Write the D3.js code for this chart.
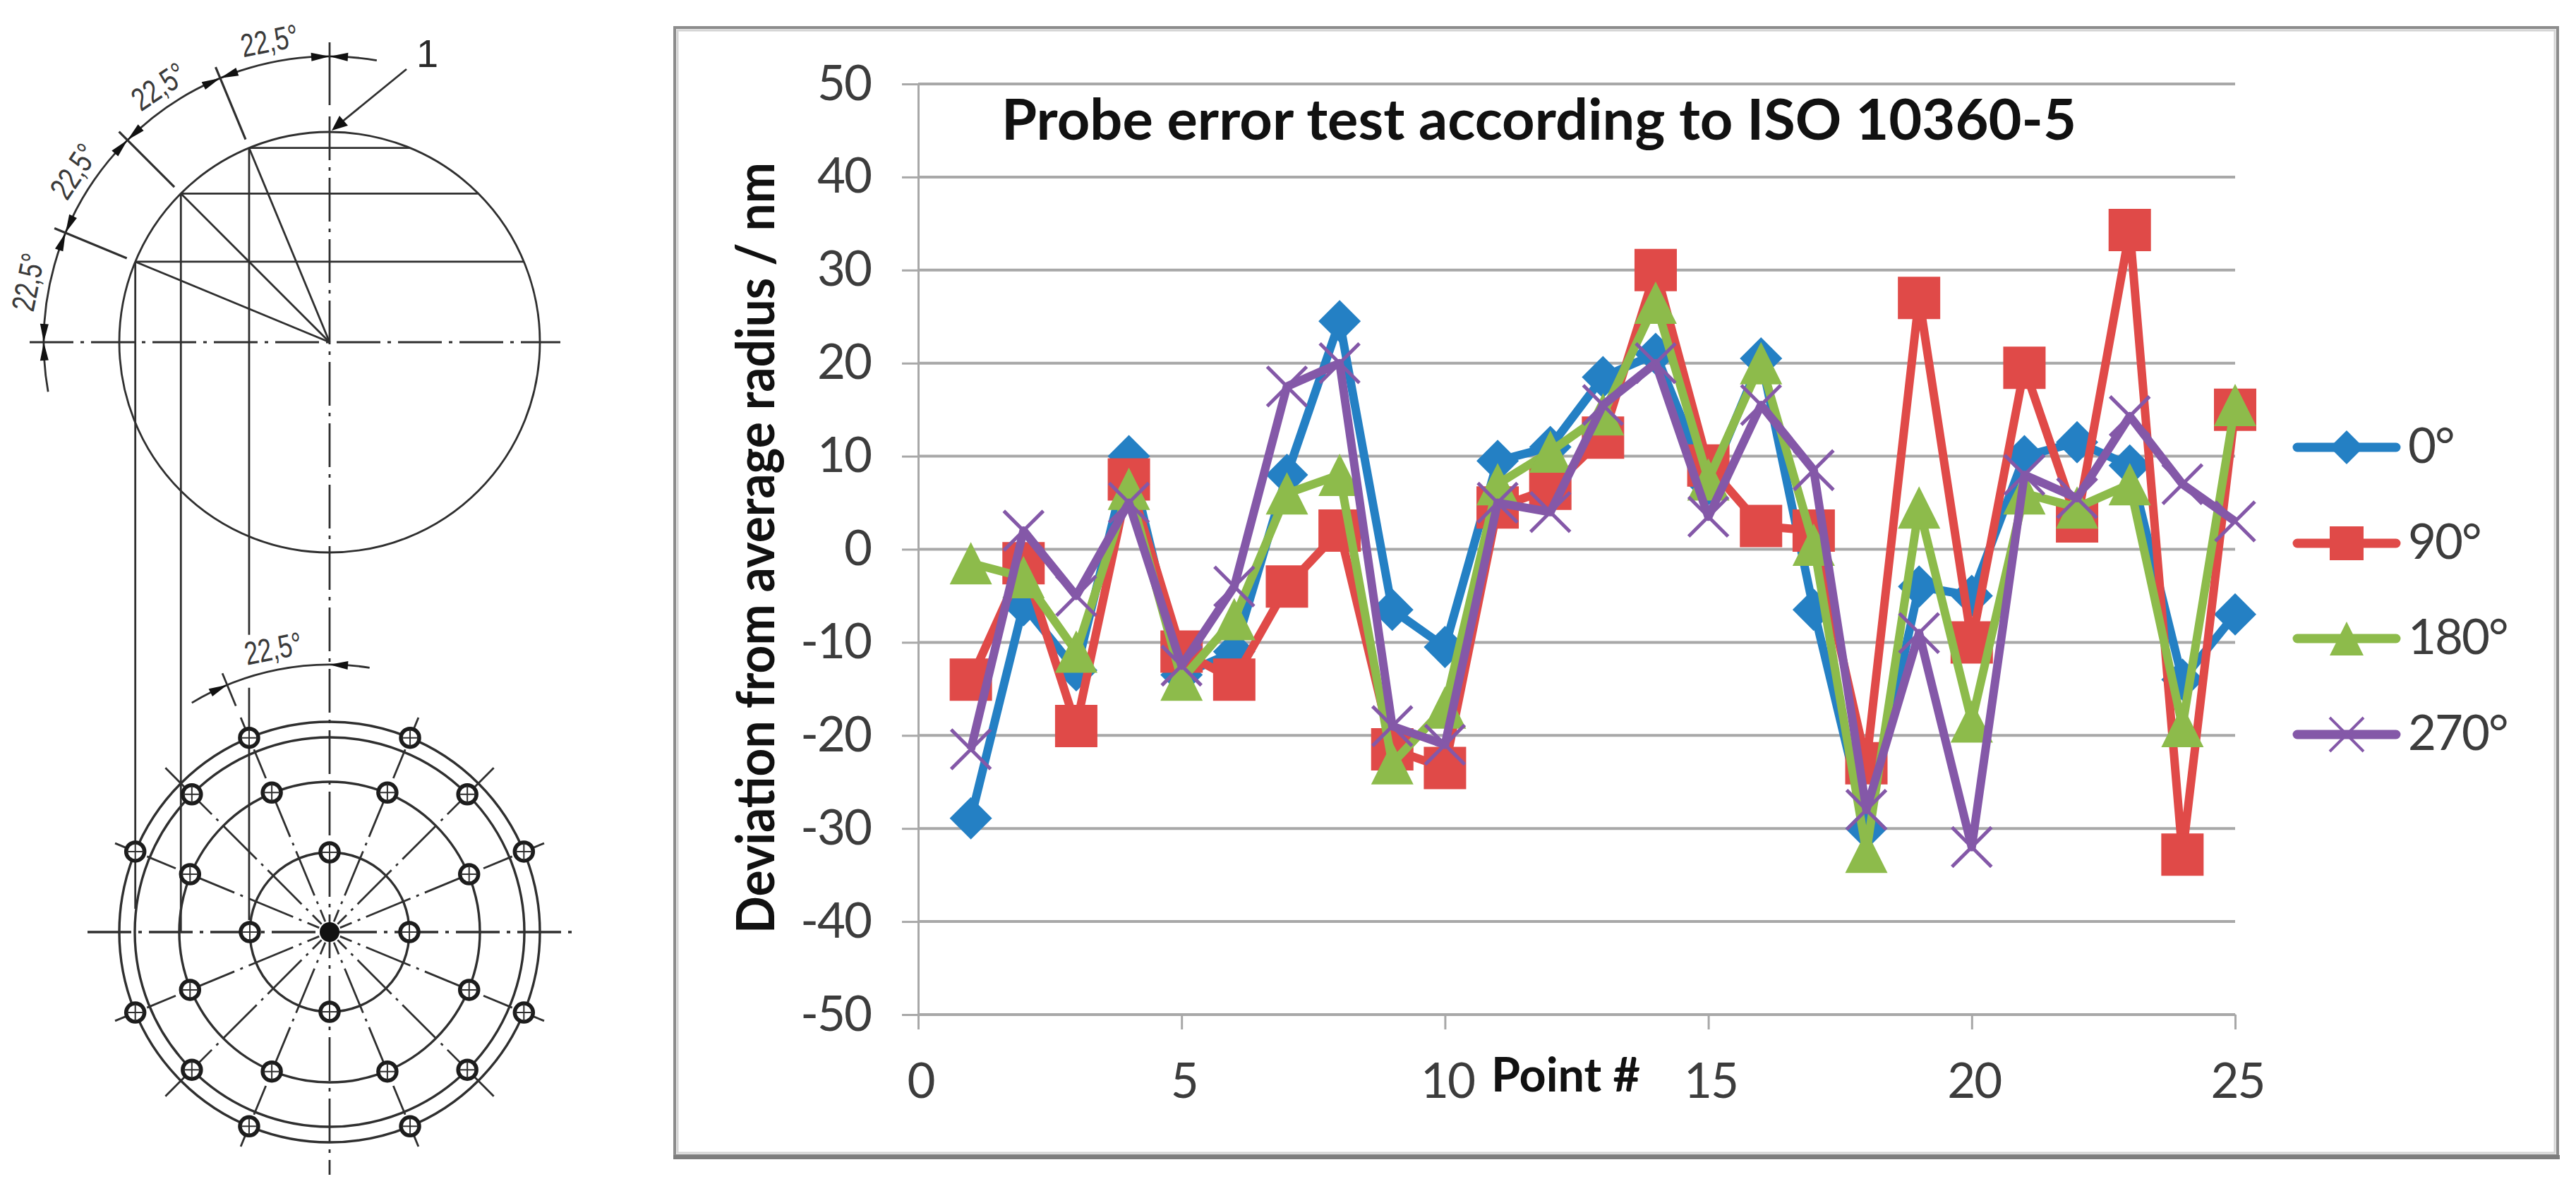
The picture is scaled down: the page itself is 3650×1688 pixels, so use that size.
<!DOCTYPE html>
<html>
<head>
<meta charset="utf-8">
<script src="https://cdn.jsdelivr.net/npm/d3@7/dist/d3.min.js"></script>
<style>
  html, body { margin: 0; background: #fff; }
  svg { display: block; }
</style>
</head>
<body>
<div id="figure"></div>
<script>
const points = d3.range(1, 26);
const seriesNames = ["0°", "90°", "180°", "270°"];
const values0 = [-28.9, -6, -13, 10, -13.5, -11, 8, 24.5, -6.5, -10.5, 9.5, 11, 18.5, 21, 7, 20.5, -6.5, -30, -4, -5, 10, 11.5, 9, -14, -7];
const values90 = [-14, -1.5, -19, 7.5, -11, -14, -4, 2, -21.5, -23.5, 4.5, 6.5, 12, 30, 9, 2.5, 2, -23, 27, -10, 19.5, 3, 34.3, -32.8, 15];
const values180 = [-1.5, -3, -11, 6.5, -14, -7.5, 6, 8, -23, -17, 7, 10.5, 14.5, 26.5, 7.5, 20, 0.5, -32.5, 4.5, -18.5, 6, 4.5, 7, -19, 15.5];
const values270 = [-21.5, 2, -5, 5, -12.5, -4, 17.5, 20, -19, -21, 5, 4, 15.5, 20, 3.5, 15.5, 8.5, -28, -9, -32, 8, 5.5, 14.3, 7, 3];
const yTicks = [50, 40, 30, 20, 10, 0, -10, -20, -30, -40, -50];
const xTicks = [0, 5, 10, 15, 20, 25];
const colors = ["#2480c4", "#e04a48", "#8dbb4b", "#8458a8"];
const shapeNames = ["diamond", "square", "triangle", "cross"];

// probe geometry of the drawing on the left (angles in degrees from the top, radii in px)
const dimAngles = [0, -22.5, -45, -67.5, -90];
const ringRadii = [298, 276, 213, 113];
const holes = [
  ...[22.5, 67.5, 112.5, 157.5, 202.5, 247.5, 292.5, 337.5].map(a => [a, 298]),
  ...[45, 135, 225, 315].map(a => [a, 276]),
  ...[22.5, 67.5, 112.5, 157.5, 202.5, 247.5, 292.5, 337.5].map(a => [a, 214]),
  ...[0, 90, 180, 270].map(a => [a, 113])
];
const spokeAngles = [22.5, 45, 67.5, 112.5, 135, 157.5, 202.5, 225, 247.5, 292.5, 315, 337.5];

const W = 3650, H = 1688;
const svg = d3.select("#figure").append("svg").attr("width", W).attr("height", H);
svg.append("rect").attr("width", W).attr("height", H).attr("fill", "#fff");

const chartFont = "Lato, 'Open Sans', sans-serif";
const drawFont = "'Liberation Sans', sans-serif";

/* ---------- chart ---------- */
const x = d3.scaleLinear().domain([0, 25]).range([1301, 3167]);
const y = d3.scaleLinear().domain([-50, 50]).range([1438, 119]);

// frame
svg.append("rect").attr("x", 956).attr("y", 39).attr("width", 2668).attr("height", 1599)
  .attr("fill", "#fff").attr("stroke", "#8c8c8c").attr("stroke-width", 4);
svg.append("rect").attr("x", 960).attr("y", 43).attr("width", 2660).attr("height", 1591)
  .attr("fill", "none").attr("stroke", "#d4d4d4").attr("stroke-width", 3);
svg.append("line").attr("x1", 954).attr("x2", 3627).attr("y1", 1640).attr("y2", 1640)
  .attr("stroke", "#7d7d7d").attr("stroke-width", 6);

svg.append("g").selectAll("line").data(yTicks).join("line")
  .attr("x1", x(0)).attr("x2", x(25))
  .attr("y1", d => y(d)).attr("y2", d => y(d))
  .attr("stroke", "#a8a8a8").attr("stroke-width", 4);

const yAxis = svg.append("g").attr("transform", `translate(${x(0)},0)`)
  .call(d3.axisLeft(y).tickValues(yTicks).tickFormat(d => String(d)).tickSize(23).tickSizeOuter(0).tickPadding(44));
const xAxis = svg.append("g").attr("transform", `translate(0,${y(-50)})`)
  .call(d3.axisBottom(x).tickValues(xTicks).tickSize(21).tickSizeOuter(0).tickPadding(48));
xAxis.select(".domain").attr("stroke", "#a8a8a8").attr("stroke-width", 3);
yAxis.select(".domain").attr("stroke", "#a8a8a8").attr("stroke-width", 3);
svg.selectAll(".tick line").attr("stroke", "#a8a8a8").attr("stroke-width", 3);
svg.selectAll(".tick text").attr("font-family", chartFont).attr("font-size", 69)
  .attr("letter-spacing", -2).attr("fill", "#3c3c3c");
xAxis.selectAll(".tick text").attr("dx", 3);

function marker(kind, s) {
  const p = d3.path();
  if (kind === "diamond") {
    p.moveTo(0, -s); p.lineTo(s, 0); p.lineTo(0, s); p.lineTo(-s, 0); p.closePath();
  } else if (kind === "square") {
    p.rect(-s, -s, 2 * s, 2 * s);
  } else if (kind === "triangle") {
    p.moveTo(0, -s); p.lineTo(s, s); p.lineTo(-s, s); p.closePath();
  } else {
    p.moveTo(-s, -s); p.lineTo(s, s); p.moveTo(s, -s); p.lineTo(-s, s);
  }
  return p.toString();
}

const line = d3.line().x((d, i) => x(points[i])).y(d => y(d));
[values0, values90, values180, values270].forEach((vals, k) => {
  const g = svg.append("g");
  g.append("path").attr("d", line(vals))
    .attr("fill", "none").attr("stroke", colors[k]).attr("stroke-width", 12)
    .attr("stroke-linejoin", "round");
  g.selectAll("path.mark").data(vals).join("path")
    .attr("class", "mark")
    .attr("transform", (d, i) => `translate(${x(points[i])},${y(d)})`)
    .attr("d", marker(shapeNames[k], k === 3 ? 28 : 30))
    .attr("fill", k === 3 ? "none" : colors[k])
    .attr("stroke", k === 3 ? colors[k] : "none")
    .attr("stroke-width", 5);
});

// legend
const legend = svg.append("g").selectAll("g").data(seriesNames).join("g")
  .attr("transform", (d, i) => `translate(0,${[634, 770, 905, 1041][i]})`);
legend.append("line").attr("x1", 3255).attr("x2", 3395)
  .attr("stroke", (d, i) => colors[i]).attr("stroke-width", 13).attr("stroke-linecap", "round");
legend.append("path").attr("transform", "translate(3325,0)")
  .attr("d", (d, i) => marker(shapeNames[i], 24))
  .attr("fill", (d, i) => i === 3 ? "none" : colors[i])
  .attr("stroke", (d, i) => i === 3 ? colors[i] : "none").attr("stroke-width", 4);
legend.append("text").attr("x", 3412).attr("y", 22).text(d => d)
  .attr("font-family", chartFont).attr("font-size", 69).attr("letter-spacing", -2).attr("fill", "#3c3c3c");

svg.append("text").attr("x", 1419).attr("y", 198)
  .attr("textLength", 1523).attr("lengthAdjust", "spacingAndGlyphs")
  .attr("font-family", chartFont).attr("font-weight", 700).attr("font-size", 80).attr("fill", "#111")
  .text("Probe error test according to ISO 10360-5");
svg.append("text").attr("transform", "translate(1097,1323) rotate(-90)")
  .attr("textLength", 1093).attr("lengthAdjust", "spacingAndGlyphs")
  .attr("font-family", chartFont).attr("font-weight", 700).attr("font-size", 74).attr("fill", "#111")
  .text("Deviation from average radius / nm");
svg.append("text").attr("x", 2113).attr("y", 1547)
  .attr("textLength", 211).attr("lengthAdjust", "spacingAndGlyphs")
  .attr("font-family", chartFont).attr("font-weight", 700).attr("font-size", 66).attr("fill", "#111")
  .text("Point #");

/* ---------- probe drawing ---------- */
const ink = "#2f2f2f";
const draw = svg.append("g").attr("fill", "none").attr("stroke", ink).attr("stroke-width", 2.8);
const centerDash = "62 10 5 10";
const rad = d => d * Math.PI / 180;
const polar = (c, a, r) => [c[0] + r * Math.sin(rad(a)), c[1] - r * Math.cos(rad(a))];

function seg(a, b, dash) {
  const l = draw.append("line").attr("x1", a[0]).attr("y1", a[1]).attr("x2", b[0]).attr("y2", b[1]);
  if (dash) l.attr("stroke-dasharray", dash);
  return l;
}
function arc(c, r, a0, a1) {
  const p = d3.path();
  p.arc(c[0], c[1], r, rad(a0 - 90), rad(a1 - 90));
  draw.append("path").attr("d", p.toString());
}
function arrow(c, r, a, dir) {
  // tip sits on angle a, head comes in from the side opposite dir
  const tip = polar(c, a, r);
  const back = a - dir * (26 / r) * 180 / Math.PI;
  const p1 = polar(c, back, r + 6), p2 = polar(c, back, r - 6);
  draw.append("path").attr("d", `M${tip}L${p1}L${p2}Z`).attr("fill", "#111").attr("stroke", "none");
}
function dimLabel(c, a, r, txt) {
  const p = polar(c, a, r);
  svg.append("text").attr("transform", `translate(${p}) rotate(${a})`)
    .attr("text-anchor", "middle").attr("dy", "0.35em")
    .attr("textLength", 82).attr("lengthAdjust", "spacingAndGlyphs")
    .attr("font-family", drawFont).attr("font-size", 46).attr("fill", "#3a3a3a").text(txt);
}

// top view
const top1 = [467, 485];
const R = 298;
draw.append("circle").attr("cx", top1[0]).attr("cy", top1[1]).attr("r", R);
seg([42, top1[1]], [794, top1[1]], centerDash);
seg([top1[0], 60], [top1[0], 149]);
seg([top1[0], 165], [top1[0], 1665], centerDash);
dimAngles.slice(1, 4).forEach((a, i) => {
  const p = polar(top1, a, R);
  seg(p, top1);
  seg(p, [2 * top1[0] - p[0], p[1]]);
  seg(p, [p[0], [1304, 1320, 1288][i]], i === 0 ? "690 75 1000" : null);
  seg(polar(top1, a, 311), polar(top1, a, 422)).attr("stroke-width", 3.2);
});
arc(top1, 405, -100, 9.5);
dimAngles.forEach(a => {
  arrow(top1, 405, a, 1);
  arrow(top1, 405, a, -1);
});
[11.25, 33.75, 56.25, 78.75].forEach(a => dimLabel(top1, -a, 436, "22,5°"));
seg([576, 98], [478, 178]);
draw.append("path").attr("d", "M470,185L481,164L493,178Z").attr("fill", "#111").attr("stroke", "none");
svg.append("text").attr("x", 590).attr("y", 95)
  .attr("font-family", drawFont).attr("font-size", 56).attr("fill", "#2a2a2a").text("1");

// bottom view
const bottom = [467, 1321];
ringRadii.forEach(r => draw.append("circle").attr("cx", bottom[0]).attr("cy", bottom[1]).attr("r", r).attr("stroke-width", 3.4));
seg([124, bottom[1]], [812, bottom[1]], centerDash).attr("stroke-width", 3.4);
spokeAngles.forEach(a => {
  seg(polar(bottom, a, 16), polar(bottom, a, 280), "18 9 4 9 68 9 4 9 68 9 4 9 68 9 4 9");
  seg(polar(bottom, a, a % 45 === 0 ? 285 : 310), polar(bottom, a, 329));
});

const hole = draw.append("g").selectAll("g").data(holes).join("g")
  .attr("transform", d => `translate(${polar(bottom, d[0], d[1])})`);
hole.append("circle").attr("r", 13).attr("fill", "#fff").attr("stroke", "#1c1c1c").attr("stroke-width", 5.5);
hole.append("path").attr("d", "M-12,0H12M0,-12V12").attr("stroke-width", 2);
draw.append("circle").attr("cx", bottom[0]).attr("cy", bottom[1]).attr("r", 14).attr("fill", "#111").attr("stroke", "none");

arc(bottom, 379, -31, 8.6);
arrow(bottom, 379, 0, -1);
arrow(bottom, 379, -22.5, 1);
seg(polar(bottom, -22.5, 347), polar(bottom, -22.5, 397));
dimLabel(bottom, -11.25, 410, "22,5°");
</script>
</body>
</html>
